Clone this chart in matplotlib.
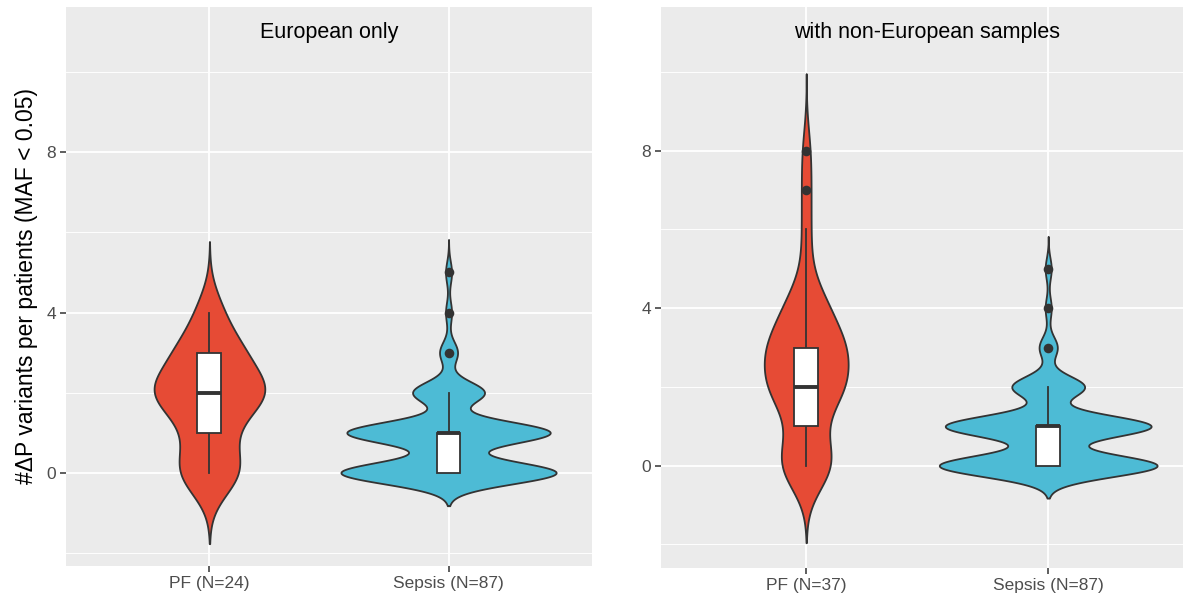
import numpy as np
import matplotlib
matplotlib.use('Agg')
import matplotlib.pyplot as plt

plt.rcParams['font.family'] = ['Liberation Sans', 'DejaVu Sans']

# counts of patients per number of variants (index = number of variants)
pf_eur_counts = [5, 3, 9, 5, 2]
pf_all_counts = [7, 3, 9, 9, 5, 1, 1, 1, 1]
sepsis_counts = [36, 34, 12, 3, 1, 1]

categories_left = ["PF (N=24)", "Sepsis (N=87)"]
categories_right = ["PF (N=37)", "Sepsis (N=87)"]
titles = ["European only", "with non-European samples"]
colors = ["#E64B35", "#4DBBD5"]
ylabel = "#\u0394P variants per patients (MAF < 0.05)"

BG = "#EBEBEB"
DARK = "#333333"


def expand(counts):
    return np.repeat(np.arange(len(counts)), counts).astype(float)


def nrd0(x):
    q1, q3 = np.percentile(x, [25, 75])
    s = min(np.std(x, ddof=1), (q3 - q1) / 1.34)
    return 0.9 * s * len(x) ** -0.2


def kde(x):
    bw = nrd0(x)
    y = np.linspace(x.min() - 3 * bw, x.max() + 3 * bw, 512)
    d = np.exp(-0.5 * ((y[:, None] - x[None, :]) / bw) ** 2).sum(axis=1)
    d /= len(x) * bw * np.sqrt(2 * np.pi)
    return y, d


def draw_panel(ax, groups, labels, title, ylim, xlim):
    dens = [kde(g) for g in groups]
    dmax = max(d.max() for _, d in dens)
    for i, (g, (y, d)) in enumerate(zip(groups, dens)):
        pos = i + 1
        hw = 0.45 * d / dmax
        ax.fill_betweenx(y, pos - hw, pos + hw, facecolor=colors[i],
                         edgecolor=DARK, linewidth=1.3, zorder=3)
        # boxplot
        q1, med, q3 = np.percentile(g, [25, 50, 75])
        iqr = q3 - q1
        lo = g[g >= q1 - 1.5 * iqr].min()
        hi = g[g <= q3 + 1.5 * iqr].max()
        w = 0.05
        ax.plot([pos, pos], [q3, hi], color=DARK, lw=1.3, zorder=4)
        ax.plot([pos, pos], [lo, q1], color=DARK, lw=1.3, zorder=4)
        ax.add_patch(plt.Rectangle((pos - w, q1), 2 * w, q3 - q1,
                                   facecolor="white", edgecolor=DARK,
                                   lw=1.3, zorder=5))
        ax.plot([pos - w, pos + w], [med, med], color=DARK, lw=2.8,
                solid_capstyle='butt', zorder=6)
        out = np.unique(g[(g < lo) | (g > hi)])
        ax.scatter(np.full(len(out), pos), out, s=48, color=DARK,
                   zorder=7, linewidths=0)
    ax.text(1.5, 11, title, ha='center', va='center', fontsize=15.5,
            color='black', zorder=8)
    ax.set_facecolor(BG)
    for s in ax.spines.values():
        s.set_visible(False)
    ax.set_xlim(*xlim)
    ax.set_ylim(*ylim)
    ax.set_xticks([1, 2])
    ax.set_xticklabels(labels)
    ax.set_yticks([0, 4, 8])
    ax.set_yticks([-2, 2, 6, 10], minor=True)
    ax.grid(True, which='major', color='white', lw=1.3, zorder=0)
    ax.grid(True, which='minor', axis='y', color='white', lw=0.65, zorder=0)
    ax.set_axisbelow(True)
    ax.tick_params(axis='both', which='major', length=4, width=1.1,
                   color=DARK, labelcolor="#4D4D4D", labelsize=12.5, pad=3)
    ax.tick_params(axis='y', which='minor', length=0)


fig = plt.figure(figsize=(11.83, 6.02), dpi=100)
ax1 = fig.add_axes([66 / 1183, 36 / 602, 526 / 1183, 559 / 602])
ax2 = fig.add_axes([661 / 1183, 34 / 602, 522 / 1183, 561 / 602])

sepsis = expand(sepsis_counts)
draw_panel(ax1, [expand(pf_eur_counts), sepsis], categories_left, titles[0],
           (-2.33, 11.63), (0.4, 2.6))
draw_panel(ax2, [expand(pf_all_counts), sepsis], categories_right, titles[1],
           (-2.6, 11.65), (0.4, 0.4 + 522 / 242))

ax1.set_ylabel(ylabel, fontsize=16.5, color='black', labelpad=6)

fig.savefig("out.png", dpi=100, facecolor='white')
